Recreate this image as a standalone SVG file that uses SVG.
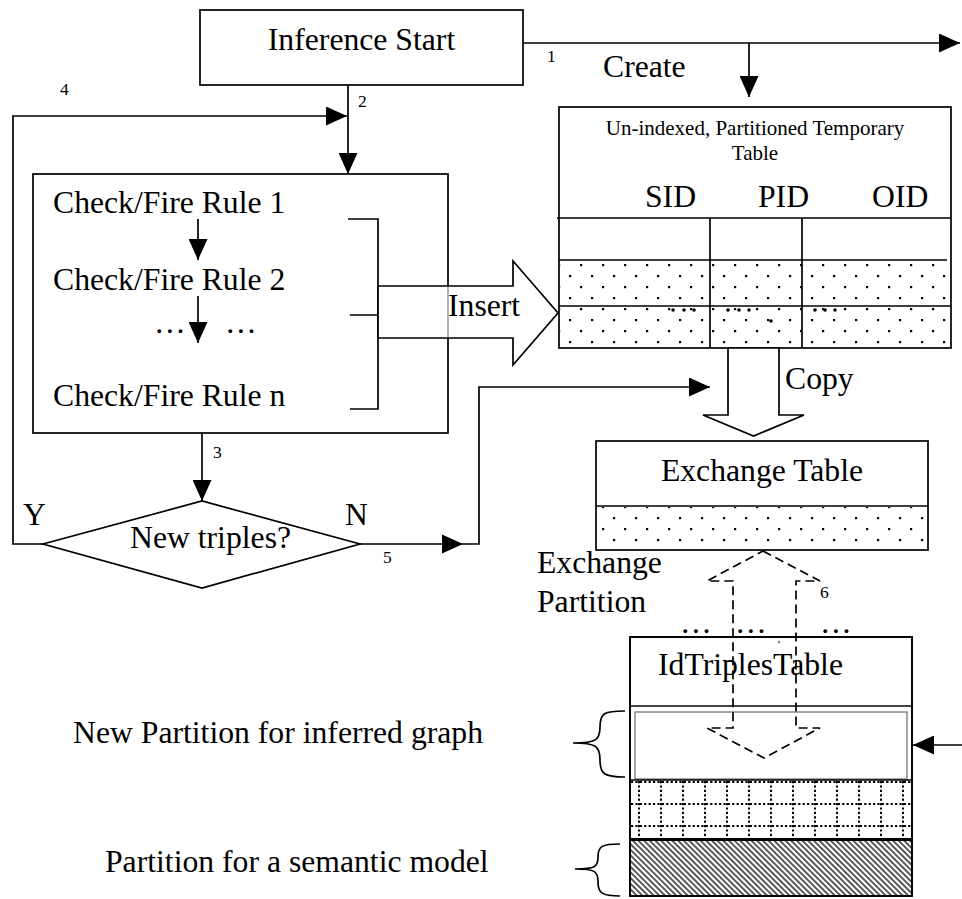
<svg xmlns="http://www.w3.org/2000/svg" width="962" height="899" viewBox="0 0 962 899">
  <style>
    .ln { stroke: #000; stroke-width: 1.7; fill: none; }
    .box { fill: #fff; stroke: #000; stroke-width: 1.7; }
    .t { font-family: "Liberation Serif", "Times New Roman", serif; font-size: 31.7px; fill: #000; }
    .s { font-size: 17.5px; }
    .h { font-size: 21px; }
    .dash { stroke: #000; stroke-width: 1.7; fill: none; stroke-dasharray: 9 5; }
    .dot { fill: #000; }
  </style>
  <defs>
    <marker id="arr" markerUnits="userSpaceOnUse" markerWidth="21" markerHeight="19" refX="21" refY="9.5" orient="auto">
      <path d="M0,0 L21,9.5 L0,19 Z" fill="#000"/>
    </marker>
    <pattern id="dots-t" patternUnits="userSpaceOnUse" x="564" y="270" width="22" height="22">
      <rect x="5" y="5" width="2.2" height="2.2" fill="#000"/>
      <rect x="16" y="16" width="2.2" height="2.2" fill="#000"/>
    </pattern>
    <pattern id="dots-x" patternUnits="userSpaceOnUse" x="608" y="512" width="22" height="22">
      <rect x="5" y="5" width="2.2" height="2.2" fill="#000"/>
      <rect x="16" y="16" width="2.2" height="2.2" fill="#000"/>
    </pattern>
    <pattern id="hatch" patternUnits="userSpaceOnUse" width="4" height="4" patternTransform="rotate(-45)">
      <line x1="1" y1="0" x2="1" y2="4" stroke="#000" stroke-width="1.3"/>
    </pattern>
  </defs>

  <!-- start node -->
  <g id="inference-start">
    <rect class="box" x="200" y="10" width="323" height="75"/>
    <text class="t" x="361.5" y="50" text-anchor="middle">Inference Start</text>
  </g>

  <!-- rule firing block -->
  <g id="rules-box">
    <rect class="box" x="33" y="174" width="415" height="259"/>
    <text class="t" x="53" y="213">Check/Fire Rule 1</text>
    <text class="t" x="53" y="290">Check/Fire Rule 2</text>
    <text class="t" x="154" y="333">…</text>
    <text class="t" x="225" y="333">…</text>
    <text class="t" x="53" y="406">Check/Fire Rule n</text>
    <line class="ln" x1="198" y1="219" x2="198" y2="260" marker-end="url(#arr)"/>
    <line class="ln" x1="198" y1="296" x2="198" y2="343" marker-end="url(#arr)"/>
    <!-- bracket collecting rule output -->
    <path class="ln" d="M348,219 H378 V409 H350 M350,315 H378"/>
  </g>

  <!-- decision -->
  <g id="decision">
    <polygon class="box" points="43,544 202,501 360,544 202,588"/>
    <text class="t" x="130" y="548">New triples?</text>
    <text class="t" x="23" y="525">Y</text>
    <text class="t" x="345" y="525">N</text>
  </g>

  <!-- temporary table -->
  <g id="temp-table">
    <rect class="box" x="559" y="107" width="392" height="241"/>
    <rect x="560" y="261" width="390" height="86" fill="url(#dots-t)"/>
    <text class="t h" x="755" y="135" text-anchor="middle">Un-indexed, Partitioned Temporary</text>
    <text class="t h" x="755" y="160" text-anchor="middle">Table</text>
    <text class="t" x="645" y="207">SID</text>
    <text class="t" x="758" y="207">PID</text>
    <text class="t" x="872" y="207">OID</text>
    <line class="ln" x1="557" y1="218" x2="951" y2="218"/>
    <line class="ln" x1="559" y1="260" x2="947" y2="260"/>
    <line class="ln" x1="559" y1="306" x2="951" y2="306"/>
    <line class="ln" x1="710" y1="218" x2="710" y2="348"/>
    <line class="ln" x1="802" y1="218" x2="802" y2="348"/>
    <g class="dot">
      <circle cx="673" cy="310" r="1.8"/><circle cx="684" cy="310" r="1.8"/><circle cx="694" cy="310" r="1.8"/>
      <circle cx="728" cy="310" r="1.8"/><circle cx="739" cy="310" r="1.8"/><circle cx="749" cy="310" r="1.8"/>
      <circle cx="771" cy="321" r="1.8"/>
      <circle cx="815" cy="310" r="1.8"/><circle cx="825" cy="310" r="1.8"/><circle cx="835" cy="310" r="1.8"/>
    </g>
  </g>

  <!-- exchange table -->
  <g id="exchange-table">
    <rect class="box" x="596" y="441" width="332" height="109"/>
    <rect x="597" y="507" width="330" height="42" fill="url(#dots-x)"/>
    <line class="ln" x1="596" y1="506" x2="928" y2="506"/>
    <text class="t" x="762" y="481" text-anchor="middle">Exchange Table</text>
  </g>

  <!-- main triples table -->
  <g id="idtriples-table">
    <rect class="box" x="630" y="637" width="282" height="259"/>
    <line x1="630" y1="706" x2="912" y2="706" stroke="#444" stroke-width="2"/>
    <rect x="635" y="712" width="272" height="67" fill="none" stroke="#888" stroke-width="1.5"/>
    <line class="ln" x1="630" y1="780" x2="912" y2="780"/>
    <g stroke="#000" stroke-width="2" stroke-dasharray="2.2 2.2">
      <line x1="631" y1="782" x2="911" y2="782"/>
      <line x1="631" y1="804" x2="911" y2="804"/>
      <line x1="631" y1="826" x2="911" y2="826"/>
      <line x1="639" y1="781" x2="639" y2="838"/>
      <line x1="661" y1="781" x2="661" y2="838"/>
      <line x1="683" y1="781" x2="683" y2="838"/>
      <line x1="705" y1="781" x2="705" y2="838"/>
      <line x1="727" y1="781" x2="727" y2="838"/>
      <line x1="749" y1="781" x2="749" y2="838"/>
      <line x1="771" y1="781" x2="771" y2="838"/>
      <line x1="793" y1="781" x2="793" y2="838"/>
      <line x1="815" y1="781" x2="815" y2="838"/>
      <line x1="837" y1="781" x2="837" y2="838"/>
      <line x1="859" y1="781" x2="859" y2="838"/>
      <line x1="881" y1="781" x2="881" y2="838"/>
      <line x1="903" y1="781" x2="903" y2="838"/>
    </g>
    <rect x="631" y="841" width="280" height="54" fill="url(#hatch)"/>
    <line x1="630" y1="839.5" x2="912" y2="839.5" stroke="#000" stroke-width="3"/>
    <rect x="630" y="637" width="282" height="259" fill="none" stroke="#000" stroke-width="1.7"/>
    <text class="t" x="658" y="675">IdTriplesTable</text>
    <text class="t" x="680" y="633">…</text>
    <text class="t" x="735" y="633">…</text>
    <text class="t" x="820" y="633">…</text>
    <circle cx="779" cy="642" r="1.2" fill="#777"/>
    <!-- partition braces -->
    <path class="ln" d="M625,711 C604,711 600,713 600,727 C600,740 596,743 573,743 C596,743 600,746 600,760 C600,774 604,777 625,777"/>
    <path class="ln" d="M620,844 C602,844 598,846 598,857 C598,867 595,869 575,869 C595,869 598,871 598,882 C598,893 602,896 620,896"/>
    <text class="t" x="73" y="743">New Partition for inferred graph</text>
    <text class="t" x="105" y="872">Partition for a semantic model</text>
  </g>

  <!-- connectors -->
  <g id="connectors">
    <line class="ln" x1="523" y1="43" x2="960" y2="43" marker-end="url(#arr)"/>
    <line class="ln" x1="749" y1="43" x2="749" y2="97" marker-end="url(#arr)"/>
    <line class="ln" x1="348" y1="85" x2="348" y2="174" marker-end="url(#arr)"/>
    <polyline class="ln" points="43,544 13,544 13,116 347,116" marker-end="url(#arr)"/>
    <line class="ln" x1="202" y1="433" x2="202" y2="501" marker-end="url(#arr)"/>
    <polyline class="ln" points="360,544 479,544 479,387 710,387" marker-end="url(#arr)"/>
    <path d="M442,534.5 L463,544 L442,553.5 Z" fill="#000"/>
    <line class="ln" x1="962" y1="745" x2="913" y2="745" marker-end="url(#arr)"/>
    <!-- insert arrow -->
    <polygon points="378,286 513,286 513,261 558,313 513,365 513,338 378,338" fill="#fff" fill-opacity="0.65" stroke="#000" stroke-width="1.7"/>
    <text class="t" x="448" y="316">Insert</text>
    <!-- copy arrow -->
    <polygon points="728,348 728,415 703,415 753.5,436 804,415 779,415 779,348" fill="#fff" stroke="#000" stroke-width="1.7"/>
    <text class="t" x="785" y="389">Copy</text>
    <!-- exchange partition arrow -->
    <polygon class="dash" points="763,551 820,581 796,581 796,728 820,728 764,758 707,728 733,728 733,581 707,581"/>
    <text class="t" x="537" y="573">Exchange</text>
    <text class="t" x="537" y="612">Partition</text>
    <text class="t" x="603" y="77">Create</text>
    <text class="t s" x="547" y="62">1</text>
    <text class="t s" x="358" y="107">2</text>
    <text class="t s" x="213" y="458">3</text>
    <text class="t s" x="60" y="95">4</text>
    <text class="t s" x="383" y="563">5</text>
    <text class="t s" x="820" y="598">6</text>
  </g>
</svg>
